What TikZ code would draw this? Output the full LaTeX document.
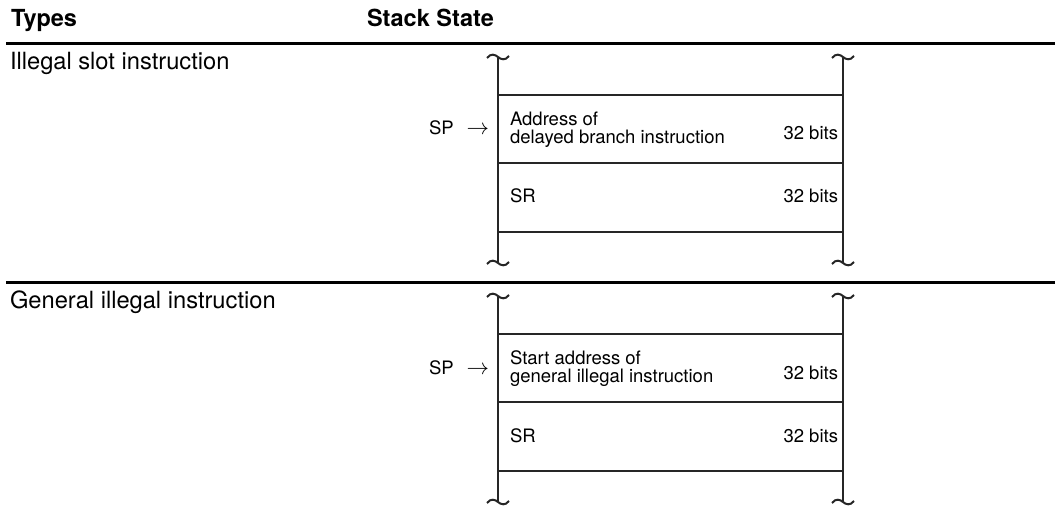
\documentclass[tikz,border=0pt]{standalone}
\usepackage{fontspec}
\setmainfont{TeX Gyre Heros}
\begin{document}
\begin{tikzpicture}[x=1pt,y=-1pt,
  every node/.style={inner sep=0pt,outer sep=0pt,text=black},
  headtext/.style={font=\fontsize{23.5}{28}\selectfont\bfseries,anchor=base west},
  typetext/.style={font=\fontsize{23.7}{28}\selectfont,anchor=base west},
  celltext/.style={font=\fontsize{18.5}{18}\selectfont,anchor=base west,align=left},
  bitstext/.style={font=\fontsize{18.5}{18}\selectfont,anchor=base east},
  sptext/.style={font=\fontsize{18.5}{18}\selectfont,anchor=base west},
  sepline/.style={line width=3pt,black},
  stackline/.style={line width=2pt,black!85},
  tilde/.pic={\draw[stackline] (-11,1) .. controls (-7,-4) and (-3,-2.5) .. (0,0) .. controls (3,2.5) and (7,4) .. (11,-1);}
]
\useasboundingbox (0,0) rectangle (1055,521);

% header
\node[headtext] (hTypes) at (11,27) {Types};
\node[headtext] (hStack) at (367,27) {Stack State};
\coordinate (sepAl) at (6,44);
\coordinate (sepAr) at (1055,44);
\draw[sepline] (sepAl) -- (sepAr);

% ---- block 1 ----
\node[typetext] (t1) at (10,70) {Illegal slot instruction};
\coordinate (l1top) at (498,57);
\coordinate (l1bot) at (498,263);
\coordinate (r1top) at (843,57);
\coordinate (r1bot) at (843,263);
\draw[stackline] (l1top) -- (l1bot);
\draw[stackline] (r1top) -- (r1bot);
\pic at (l1top) {tilde};
\pic at (r1top) {tilde};
\pic at (l1bot) {tilde};
\pic at (r1bot) {tilde};
\foreach \yy in {95,163,232} \draw[stackline] (498,\yy) -- (843,\yy);
\node[celltext,anchor=north west] (a1) at (510,112) {Address of\\delayed branch instruction};
\node[bitstext] (b1a) at (838,140) {32 bits};
\node[celltext] (sr1) at (510,203) {SR};
\node[bitstext] (b1b) at (838,203) {32 bits};
\node[sptext] (sp1) at (429,135) {SP\hspace{13pt}\scalebox{1.3}{$\rightarrow$}};

% separator
\coordinate (sepBl) at (6,283);
\coordinate (sepBr) at (1055,283);
\draw[sepline] (sepBl) -- (sepBr);

% ---- block 2 ----
\node[typetext] (t2) at (10,309) {General illegal instruction};
\coordinate (l2top) at (498,296);
\coordinate (l2bot) at (498,502);
\coordinate (r2top) at (843,296);
\coordinate (r2bot) at (843,502);
\draw[stackline] (l2top) -- (l2bot);
\draw[stackline] (r2top) -- (r2bot);
\pic at (l2top) {tilde};
\pic at (r2top) {tilde};
\pic at (l2bot) {tilde};
\pic at (r2bot) {tilde};
\foreach \yy in {334,402,471} \draw[stackline] (498,\yy) -- (843,\yy);
\node[celltext,anchor=north west] (a2) at (510,351) {Start address of\\general illegal instruction};
\node[bitstext] (b2a) at (838,379) {32 bits};
\node[celltext] (sr2) at (510,442) {SR};
\node[bitstext] (b2b) at (838,442) {32 bits};
\node[sptext] (sp2) at (429,374) {SP\hspace{13pt}\scalebox{1.3}{$\rightarrow$}};
\end{tikzpicture}
\end{document}
